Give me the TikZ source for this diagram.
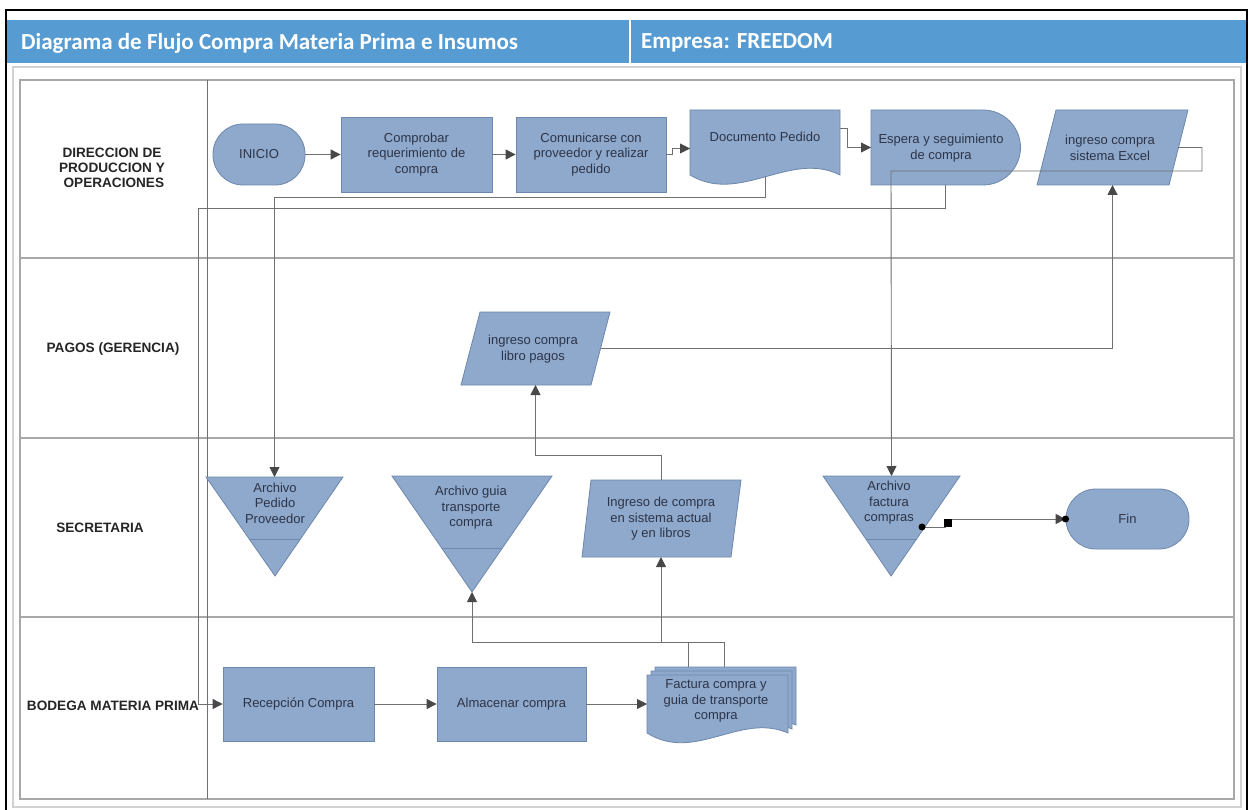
\documentclass[tikz,border=0pt]{standalone}
\usepackage{fontspec}
\setmainfont{Liberation Sans}
\newfontfamily\hdrfont{Carlito}
\usetikzlibrary{arrows.meta,calc}
\definecolor{hdrblue}{RGB}{86,156,211}
\definecolor{shapefill}{RGB}{142,169,204}
\definecolor{shapeline}{RGB}{110,135,172}
\definecolor{txtcol}{RGB}{45,52,72}
\definecolor{conncol}{RGB}{112,112,112}
\definecolor{arrowcol}{RGB}{72,72,72}
\definecolor{lanecol}{RGB}{168,168,168}
\begin{document}
\begin{tikzpicture}[x=1pt,y=1pt,
  shp/.style={fill=shapefill,draw=shapeline,line width=0.8pt},
  lbl/.style={font=\fontsize{13}{15.5}\selectfont,text=txtcol,align=center,inner sep=0pt},
  ghost/.style={inner sep=0pt,outer sep=0pt},
  lanelbl/.style={font=\bfseries\fontsize{13.6}{15}\selectfont,text=black!85,align=center},
  conn/.style={draw=conncol,line width=0.9pt},
  arr/.style={conn,-{Triangle[length=10pt,width=10pt,color=arrowcol]}},
  lane/.style={draw=lanecol,line width=1.4pt}]
\useasboundingbox (0,0) rectangle (1249,-810);
\fill[white] (0,0) rectangle (1249,-810);
% outer frames
\draw[black,line width=2.5pt] (6,-812) -- (6,-10) -- (1247,-10) -- (1247,-812);
\fill[hdrblue] (7,-20) rectangle (1246,-63);
\draw[white,line width=1.5pt] (630,-20) -- (630,-63);
\node[anchor=west,font=\hdrfont\bfseries\fontsize{23}{25}\selectfont,text=white,inner sep=0pt] (title) at (21,-43) {Diagrama de Flujo Compra Materia Prima e Insumos};
\node[anchor=west,font=\hdrfont\bfseries\fontsize{23}{25}\selectfont,text=white,inner sep=0pt] (empresa) at (641,-43) {Empresa: FREEDOM};
\draw[gray!35,line width=1.5pt] (13,-67) rectangle (1241,-807);
% lanes
\draw[lane] (20,-80) rectangle (1234,-799);
\draw[lane] (20,-258) -- (1234,-258);
\draw[lane] (20,-438) -- (1234,-438);
\draw[lane] (20,-617) -- (1234,-617);
\draw[conncol,line width=1pt] (207,-80) -- (207,-799);
\node[lanelbl] (l1) at (112,-168) {DIRECCION DE\\PRODUCCION Y\\\ OPERACIONES};
\node[lanelbl] (l2) at (113,-349) {PAGOS (GERENCIA)};
\node[lanelbl] (l3) at (100,-528) {SECRETARIA};
\node[lanelbl] (l4) at (113,-706) {BODEGA MATERIA PRIMA};
% --- lane 1 shapes
\node[shp,lbl,rounded corners=30pt,minimum width=92pt,minimum height=61pt] (inicio) at (259,-154.5) {INICIO};
\node[shp,lbl,minimum width=151pt,minimum height=75pt] (comp) at (416.5,-154.5) {Comprobar\\requerimiento de\\compra};
\node[shp,lbl,minimum width=150pt,minimum height=75pt] (comu) at (591,-154.5) {Comunicarse con\\proveedor y realizar\\pedido};
\node[ghost,minimum width=150pt,minimum height=77pt] (doc) at (765,-148.5) {};
\draw[shp] (690,-110) -- (840,-110) -- (840,-175) .. controls (790,-150) and (740,-205) .. (690,-175) -- cycle;
\node[lbl] (doct) at (765,-137) {Documento Pedido};
\node[ghost,minimum width=149pt,minimum height=75pt] (esp) at (945.5,-147.5) {};
\draw[shp] (871,-110) -- (983,-110) arc[start angle=90,end angle=-90,radius=37.5] -- (871,-185) -- cycle;
\node[lbl] (espt) at (941,-148) {Espera y seguimiento\\de compra};
\node[ghost,minimum width=151pt,minimum height=75pt] (exc) at (1112.5,-147.5) {};
\draw[shp] (1056,-110) -- (1188,-110) -- (1169,-185) -- (1037,-185) -- cycle;
\node[lbl] (exct) at (1110,-148) {ingreso compra\\sistema Excel};
% --- lane 2
\node[ghost,minimum width=149pt,minimum height=73pt] (lib) at (535.5,-348.5) {};
\draw[shp] (480,-312) -- (610,-312) -- (591,-385) -- (461,-385) -- cycle;
\node[lbl] (libt) at (533,-349) {ingreso compra\\libro pagos};
% --- lane 3
\node[ghost,minimum width=137pt,minimum height=99pt] (app) at (274.5,-526.5) {};
\draw[shp] (206,-477) -- (343,-477) -- (275,-576) -- cycle;
\draw[shapeline,line width=0.8pt] ($(206,-477)!0.626!(275,-576)$) -- ($(343,-477)!0.626!(275,-576)$);
\node[lbl] (appt) at (275,-503) {Archivo\\Pedido\\Proveedor};
\node[ghost,minimum width=160pt,minimum height=116pt] (ag) at (472,-534) {};
\draw[shp] (392,-476) -- (552,-476) -- (472,-592) -- cycle;
\draw[shapeline,line width=0.8pt] ($(392,-476)!0.62!(472,-592)$) -- ($(552,-476)!0.62!(472,-592)$);
\node[lbl] (agt) at (471,-508) {Archivo guia\\transporte\\compra};
\node[ghost,minimum width=159pt,minimum height=77pt] (act) at (661,-518.5) {};
\draw[shp] (591,-480) -- (741,-480) -- (731,-557) -- (582,-557) -- cycle;
\node[lbl] (actt) at (661,-519) {Ingreso de compra\\en sistema actual\\y en libros};
\node[ghost,minimum width=137pt,minimum height=100pt] (af) at (891.5,-526) {};
\draw[shp] (823,-476) -- (960,-476) -- (891,-576) -- cycle;
\draw[shapeline,line width=0.8pt] ($(823,-476)!0.63!(891,-576)$) -- ($(960,-476)!0.63!(891,-576)$);
\node[lbl] (aft) at (889,-503) {Archivo\\factura\\compras};
\node[shp,lbl,rounded corners=29.9pt,minimum width=123pt,minimum height=60pt] (fin) at (1127.5,-519) {Fin};
% --- lane 4
\node[shp,lbl,minimum width=151pt,minimum height=74pt] (rec) at (298.5,-704) {Recepción Compra};
\node[shp,lbl,minimum width=149pt,minimum height=74pt] (alm) at (511.5,-704) {Almacenar compra};
\node[ghost,minimum width=149pt,minimum height=76pt] (fac) at (721,-705) {};
\draw[shp] (655,-667) -- (796,-667) -- (796,-725) .. controls (748,-704) and (703,-755) .. (655,-725) -- cycle;
\draw[shp] (651,-671) -- (792,-671) -- (792,-729) .. controls (744,-708) and (699,-759) .. (651,-729) -- cycle;
\draw[shp] (647,-675) -- (788,-675) -- (788,-733) .. controls (740,-712) and (695,-763) .. (647,-733) -- cycle;
\node[lbl] (fact) at (716,-701) {Factura compra y\\guia de transporte\\compra};
% --- connectors
\coordinate (docb) at (765,-177);
\coordinate (bendA) at (198,-208);
\coordinate (excr) at (1178,-147.5);
\coordinate (libr) at (600.5,-348.5);
\coordinate (facA) at (688,-667);
\coordinate (facB) at (724,-667);
\coordinate (afr) at (922,-527);
\coordinate (facin) at (647,-704);
\draw[arr] (inicio.east) -- (comp.west);
\draw[arr] (comp.east) -- (comu.west);
\draw[arr] (comu.east) -- ++(6,0) |- (doc.west);
\draw[arr] ($(doc.north east)+(0,-18)$) -- ++(7,0) |- (esp.west);
\draw[arr] (docb) -- (765,-197) -| (app.north);
\draw[arr] (esp.south) -- (945.5,-208) -- (bendA) |- (rec.west);
\draw[arr] (excr) -- (1202,-147.5) |- (891,-171) -- (af.north);
\draw[arr] (libr) -| (exc.south);
\draw[arr] (act.north) -- ++(0,25) -| (lib.south);
\draw[arr] (facA) -- (688,-642) -| (ag.south);
\draw[arr] (facB) -- (724,-642) -| (act.south);
\draw[arr] (afr) -- (945,-527) -- (945,-519) -- (fin.west);
\fill[black] (afr) circle (3.5pt);
\fill[black] (fin.west) circle (3.5pt);
\fill[black] (943.5,-519) rectangle (951.5,-527);
\draw[arr] (rec.east) -- (alm.west);
\draw[arr] (alm.east) -- (facin);
\end{tikzpicture}
\end{document}
